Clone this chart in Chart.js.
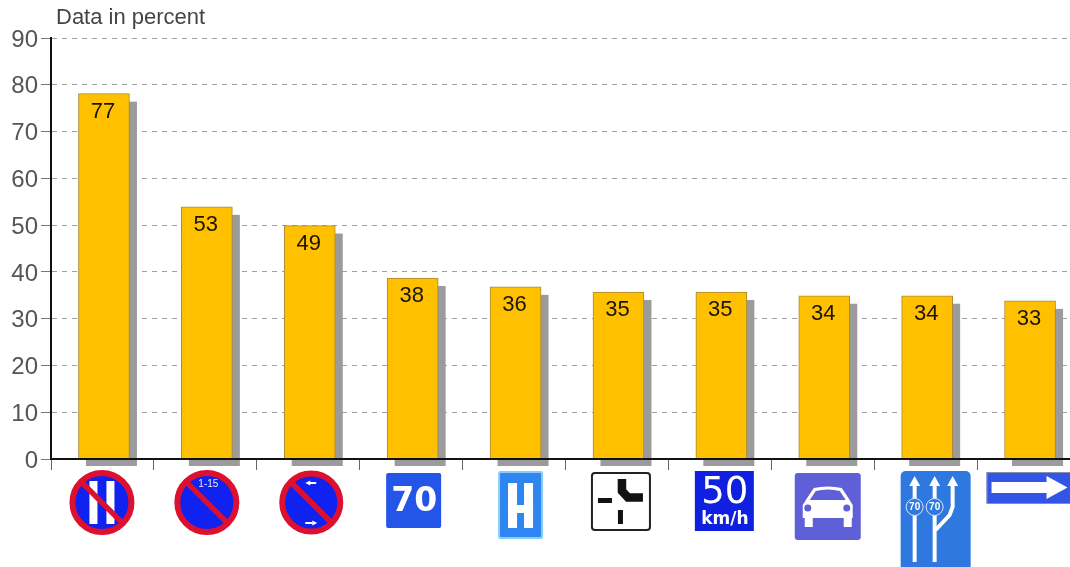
<!DOCTYPE html>
<html>
<head>
<meta charset="utf-8">
<title>Data in percent</title>
<script src="https://cdn.jsdelivr.net/npm/chart.js@4"></script>
<style>
    html, body { margin: 0; padding: 0; background: #fff; overflow: hidden; width: 1070px; height: 567px; }
    canvas { display: block; }
</style>
</head>
<body>
<canvas id="signChart" width="1085" height="567"></canvas>
<script>
// Road signs in chart order
const signNames = ['oddDayParking', 'dateParking', 'sideParking', 'recommended70', 'hospital',
    'junction', 'minimum50', 'carRoad', 'lanes70', 'oneWay'];
// Printed labels differ a little from the drawn bar heights in the original
const barHeights = [78.1, 53.9, 49.9, 38.7, 36.8, 35.7, 35.7, 34.9, 34.9, 33.8];
const barLabels = ['77', '53', '49', '38', '36', '35', '35', '34', '34', '33'];
const yTicks = [0, 10, 20, 30, 40, 50, 60, 70, 80, 90];

const FONT = '"Liberation Sans", Arial, sans-serif';
const BAR_NUDGE = 1.5; // bars sit slightly right of the tick midpoints

function rounded(ctx, x, y, w, h, r, fill, stroke, lw) {
    ctx.beginPath();
    ctx.roundRect(x, y, w, h, r);
    if (fill) { ctx.fillStyle = fill; ctx.fill(); }
    if (stroke) { ctx.strokeStyle = stroke; ctx.lineWidth = lw || 1; ctx.stroke(); }
}

function line(ctx, pts, color, lw, cap) {
    ctx.beginPath();
    pts.forEach((p, i) => i ? ctx.lineTo(p[0], p[1]) : ctx.moveTo(p[0], p[1]));
    ctx.strokeStyle = color;
    ctx.lineWidth = lw;
    ctx.lineCap = cap || 'butt';
    ctx.lineJoin = 'miter';
    ctx.stroke();
}

function label(ctx, text, x, y, font, color) {
    ctx.font = font;
    ctx.fillStyle = color;
    ctx.textAlign = 'center';
    ctx.textBaseline = 'middle';
    ctx.fillText(text, x, y);
}

function arrowHead(ctx, x, y, w, h, color) {
    ctx.beginPath();
    ctx.moveTo(x, y);
    ctx.lineTo(x + w / 2, y + h);
    ctx.lineTo(x - w / 2, y + h);
    ctx.closePath();
    ctx.fillStyle = color;
    ctx.fill();
}

// round blue "no parking" disc, extras go between the fill and the red slash
function noParking(ctx, cx, cy, r, extras) {
    ctx.beginPath();
    ctx.arc(cx, cy, r - 3, 0, Math.PI * 2);
    ctx.fillStyle = '#1022f0';
    ctx.fill();
    extras();
    ctx.beginPath();
    ctx.arc(cx, cy, r - 3, 0, Math.PI * 2);
    ctx.strokeStyle = '#dd1030';
    ctx.lineWidth = 6;
    ctx.stroke();
    const d = (r - 3) * 0.76;
    line(ctx, [[cx - d, cy - d], [cx + d, cy + d]], '#dd1030', 5.5);
}

// each sign gets its left edge relative to the centre of its category
const signs = {
    oddDayParking: { dx: -33, draw(ctx, x) {
        noParking(ctx, x + 32.5, 502.5, 32.5, () => {
            ctx.fillStyle = '#fff';
            ctx.fillRect(x + 20, 481, 8, 43);
            ctx.fillRect(x + 37, 481, 8, 43);
        });
    } },
    dateParking: { dx: -31, draw(ctx, x) {
        noParking(ctx, x + 32.5, 502.5, 32.5, () => {
            label(ctx, '1-15', x + 34, 484, '10px ' + FONT, '#e4ecff');
        });
    } },
    sideParking: { dx: -29, draw(ctx, x) {
        noParking(ctx, x + 32, 502.5, 32, () => {
            ctx.fillStyle = '#fff';
            ctx.fillRect(x + 30, 482, 7, 2);
            ctx.beginPath();
            ctx.moveTo(x + 26, 483); ctx.lineTo(x + 31, 480.5); ctx.lineTo(x + 31, 485.5);
            ctx.closePath(); ctx.fill();
            ctx.fillRect(x + 26, 522, 7, 2);
            ctx.beginPath();
            ctx.moveTo(x + 38, 523); ctx.lineTo(x + 33, 520.5); ctx.lineTo(x + 33, 525.5);
            ctx.closePath(); ctx.fill();
        });
    } },
    recommended70: { dx: -25, draw(ctx, x) {
        rounded(ctx, x, 473, 55, 55, 2, '#2255e8');
        label(ctx, '70', x + 28, 502, 'bold 33px "DejaVu Sans", ' + FONT, '#fff');
    } },
    hospital: { dx: -16, draw(ctx, x) {
        rounded(ctx, x, 471, 45, 68, 2, '#8ccdf8');
        rounded(ctx, x + 2, 473, 41, 64, 1, '#2f86f0');
        ctx.fillStyle = '#fff';
        ctx.fillRect(x + 10, 483, 9, 45);
        ctx.fillRect(x + 26, 483, 9, 45);
        ctx.fillRect(x + 10, 505, 25, 8);
    } },
    junction: { dx: -26, draw(ctx, x) {
        rounded(ctx, x + 1, 473, 58, 57, 3, '#fff', '#222', 2);
        ctx.fillStyle = '#111';
        ctx.fillRect(x + 7, 498, 14, 5);
        ctx.fillRect(x + 27, 510, 5, 14);
        line(ctx, [[x + 31, 479], [x + 31, 491], [x + 37, 497.5], [x + 52, 497.5]], '#111', 8.5);
    } },
    minimum50: { dx: -25, draw(ctx, x) {
        ctx.fillStyle = '#1020e0';
        ctx.fillRect(x, 471, 59, 60);
        label(ctx, '50', x + 30, 493, '37px "DejaVu Sans", ' + FONT, '#fff');
        label(ctx, 'km/h', x + 30, 520, 'bold 17px "DejaVu Sans", ' + FONT, '#fff');
    } },
    carRoad: { dx: -28, draw(ctx, x) {
        rounded(ctx, x, 473, 66, 67, 3, '#5f5fd8');
        ctx.fillStyle = '#fff';
        ctx.beginPath();
        ctx.moveTo(x + 13, 497);
        ctx.lineTo(x + 19, 488);
        ctx.quadraticCurveTo(x + 33, 485, x + 47, 488);
        ctx.lineTo(x + 53, 497);
        ctx.lineTo(x + 58, 505);
        ctx.lineTo(x + 58, 518);
        ctx.lineTo(x + 8, 518);
        ctx.lineTo(x + 8, 505);
        ctx.closePath();
        ctx.fill();
        ctx.fillRect(x + 10, 518, 8, 9);
        ctx.fillRect(x + 49, 518, 8, 9);
        ctx.fillStyle = '#5f5fd8';
        ctx.beginPath();
        ctx.moveTo(x + 15, 500); ctx.lineTo(x + 21, 491);
        ctx.quadraticCurveTo(x + 33, 488, x + 45, 491);
        ctx.lineTo(x + 51, 500);
        ctx.closePath();
        ctx.fill();
        ctx.beginPath(); ctx.arc(x + 13, 508, 3.5, 0, Math.PI * 2); ctx.fill();
        ctx.beginPath(); ctx.arc(x + 52, 508, 3.5, 0, Math.PI * 2); ctx.fill();
    } },
    lanes70: { dx: -25, draw(ctx, x) {
        rounded(ctx, x, 471, 70, 100, 5, '#2f78e0');
        line(ctx, [[x + 14, 484], [x + 14, 562]], '#fff', 4);
        line(ctx, [[x + 34, 484], [x + 34, 562]], '#fff', 4);
        line(ctx, [[x + 52, 484], [x + 52, 507], [x + 49, 515], [x + 35, 530]], '#fff', 4);
        arrowHead(ctx, x + 14, 476, 11, 10, '#fff');
        arrowHead(ctx, x + 34, 476, 11, 10, '#fff');
        arrowHead(ctx, x + 52, 476, 11, 10, '#fff');
        [x + 14, x + 34].forEach(cx => {
            ctx.beginPath();
            ctx.arc(cx, 507, 8.5, 0, Math.PI * 2);
            ctx.fillStyle = '#2f78e0';
            ctx.fill();
            ctx.strokeStyle = '#d5e4ff';
            ctx.lineWidth = 1;
            ctx.stroke();
            label(ctx, '70', cx, 507, 'bold 10px ' + FONT, '#fff');
        });
    } },
    oneWay: { dx: -42, draw(ctx, x) {
        ctx.fillStyle = '#3355e5';
        ctx.fillRect(x, 472, 90, 31);
        ctx.strokeStyle = '#8a8fa8';
        ctx.lineWidth = 1;
        ctx.strokeRect(x + 0.5, 472.5, 90, 31);
        ctx.fillStyle = '#fff';
        ctx.fillRect(x + 5, 482, 58, 11);
        ctx.beginPath();
        ctx.moveTo(x + 60, 476);
        ctx.lineTo(x + 81, 487.5);
        ctx.lineTo(x + 60, 499);
        ctx.closePath();
        ctx.fill();
    } }
};

const decorations = {
    id: 'decorations',
    afterDatasetsUpdate(chart) {
        chart.getDatasetMeta(0).data.forEach(bar => { bar.x += BAR_NUDGE; });
    },
    beforeDatasetsDraw(chart) {
        // grey drop shadow behind every bar
        const { ctx, scales } = chart;
        const zero = scales.y.getPixelForValue(0);
        ctx.save();
        ctx.fillStyle = '#9b9b9b';
        chart.getDatasetMeta(0).data.forEach(bar => {
            ctx.fillRect(bar.x - 18, bar.y + 8, 51, zero - bar.y - 1);
        });
        ctx.restore();
    },
    afterDatasetsDraw(chart) {
        const { ctx } = chart;
        ctx.save();
        chart.getDatasetMeta(0).data.forEach((bar, i) => {
            label(ctx, barLabels[i], bar.x - 1, bar.y + 18, '22px ' + FONT, '#1a1408');
        });
        ctx.restore();
    },
    afterDraw(chart) {
        const { ctx, scales } = chart;
        ctx.save();
        ctx.textAlign = 'left';
        ctx.textBaseline = 'middle';
        ctx.font = '22px ' + FONT;
        ctx.fillStyle = '#444';
        ctx.fillText('Data in percent', 56, 18);
        signNames.forEach((name, i) => {
            const sign = signs[name];
            sign.draw(ctx, scales.x.getPixelForValue(i) + sign.dx);
        });
        ctx.restore();
    }
};

new Chart(document.getElementById('signChart'), {
    type: 'bar',
    data: {
        labels: signNames,
        datasets: [{
            data: barHeights,
            backgroundColor: '#ffc000',
            borderColor: '#a88a3a',
            borderWidth: 1,
            barThickness: 51
        }]
    },
    plugins: [decorations],
    options: {
        responsive: false,
        animation: false,
        layout: { padding: { top: 38, right: 5 } },
        plugins: { legend: { display: false }, tooltip: { enabled: false } },
        scales: {
            x: {
                grid: { drawOnChartArea: false, tickLength: 11, tickColor: '#666', offset: true },
                border: { color: '#111', width: 2, z: 1 },
                ticks: { display: false },
                afterFit(scale) { scale.height = 108; }
            },
            y: {
                min: 0,
                max: 90,
                afterBuildTicks(scale) { scale.ticks = yTicks.map(value => ({ value })); },
                grid: { color: '#a0a0a0', tickBorderDash: [], tickColor: '#777', tickLength: 10 },
                border: { color: '#111', width: 2, z: 1, dash: [5, 5] },
                ticks: { color: '#555', padding: 3, labelOffset: 2, font: { family: FONT, size: 24 } },
                afterFit(scale) { scale.width = 51; }
            }
        }
    }
});
</script>
</body>
</html>
